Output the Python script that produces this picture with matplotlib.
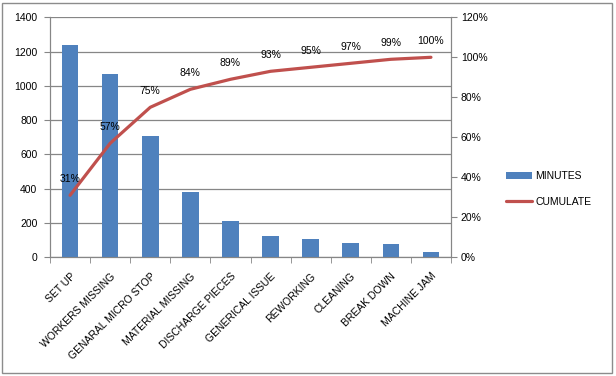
import matplotlib
matplotlib.use("Agg")
import matplotlib.pyplot as plt
from matplotlib.patches import Rectangle
from matplotlib.ticker import FuncFormatter, MultipleLocator
import numpy as np

causes = ["SET UP", "WORKERS MISSING", "GENARAL MICRO STOP", "MATERIAL MISSING",
          "DISCHARGE PIECES", "GENERICAL ISSUE", "REWORKING", "CLEANING",
          "BREAK DOWN", "MACHINE JAM"]
minutes = [1237, 1068, 706, 379, 210, 122, 105, 82, 76, 30]
cumulate = [0.31, 0.57, 0.75, 0.84, 0.89, 0.93, 0.95, 0.97, 0.99, 1.00]

plt.rcParams['font.family'] = ['Liberation Sans', 'DejaVu Sans']
plt.rcParams['font.size'] = 7.5

blue = "#4F81BD"
red = "#C0504D"
grid = "#868686"

fig = plt.figure(figsize=(6.16, 3.76), dpi=100)
fig.patches.append(Rectangle((2 / 616, 3 / 376), 610 / 616, 370 / 376,
                             transform=fig.transFigure, fill=False,
                             edgecolor="#8c8c8c", linewidth=1))
ax = fig.add_axes([50 / 616, 1 - 257.3 / 376, 401 / 616, 240 / 376])
ax2 = ax.twinx()

x = np.arange(len(causes))
ax.bar(x, minutes, width=0.415, color=blue, label="MINUTES", zorder=3)
ax.set_xlim(-0.5, len(causes) - 0.5)
ax.set_ylim(0, 1400)
ax.yaxis.set_major_locator(MultipleLocator(200))
ax.grid(axis="y", color=grid, linewidth=0.9, zorder=0)
ax.set_axisbelow(True)

ax.set_xticks(x)
ax.set_xticklabels(causes, rotation=45, ha="right", rotation_mode="anchor")
ax.tick_params(axis="x", length=0, pad=10)
ax.set_xticks(np.arange(-0.5, len(causes) + 0.5), minor=True)
ax.tick_params(axis="x", which="minor", length=4, color=grid, direction="out")
ax.tick_params(axis="y", length=4, color=grid, pad=5)

ax2.plot(x, cumulate, color=red, linewidth=2.3, label="CUMULATE",
         solid_capstyle="round", zorder=4)
ax2.set_ylim(0, 1.2)
ax2.yaxis.set_major_locator(MultipleLocator(0.2))
ax2.yaxis.set_major_formatter(FuncFormatter(lambda v, p: f"{v * 100:.0f}%"))
ax2.tick_params(axis="y", length=4, color=grid, pad=3)
for xi, c in zip(x, cumulate):
    ax2.annotate(f"{c * 100:.0f}%", (xi, c), xytext=(0, 8),
                 textcoords="offset points", ha="center", va="bottom")

for a in (ax, ax2):
    for s in a.spines.values():
        s.set_color(grid)
    a.spines["top"].set_visible(False)

h1, l1 = ax.get_legend_handles_labels()
h2, l2 = ax2.get_legend_handles_labels()
fig.legend(h1 + h2, l1 + l2, loc="center left",
           bbox_to_anchor=(497 / 616, 1 - 189 / 376), frameon=False,
           handlelength=2.5, handletextpad=0.3, labelspacing=1.45)

fig.savefig("out.png", dpi=100)
